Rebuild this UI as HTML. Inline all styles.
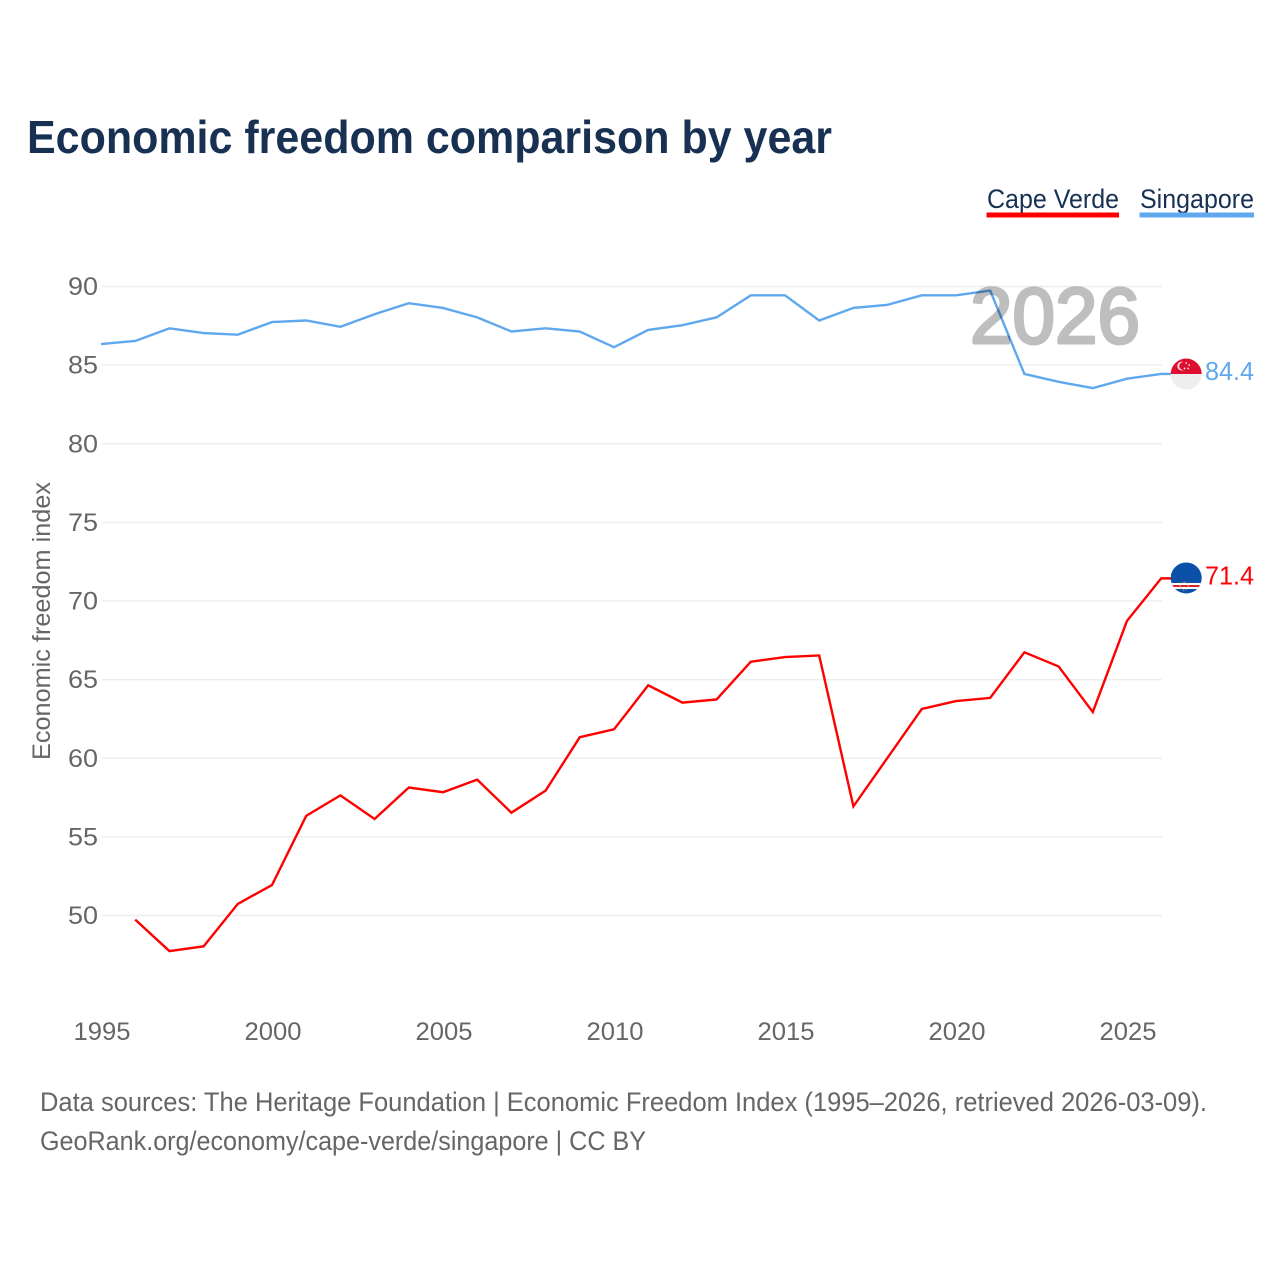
<!DOCTYPE html>
<html lang="en">
<head>
<meta charset="utf-8">
<title>Economic freedom comparison by year</title>
<style>
html,body{margin:0;padding:0;background:#fff;width:1280px;height:1280px;overflow:hidden}
svg{display:block;font-family:"Liberation Sans",sans-serif}
</style>
</head>
<body>
<svg id="chart" xmlns="http://www.w3.org/2000/svg" width="1280" height="1280" viewBox="0 0 1280 1280">
  <rect x="0" y="0" width="1280" height="1280" fill="#fff"/>
  <text x="27" y="153" font-size="46" font-weight="700" fill="#183153" textLength="805" lengthAdjust="spacingAndGlyphs">Economic freedom comparison by year</text>

  <g>
    <text x="987" y="208" font-size="27" fill="#183153" textLength="132" lengthAdjust="spacingAndGlyphs">Cape Verde</text>
    <rect x="986.5" y="212.5" width="132.5" height="5" fill="#ff0000"/>
  </g>
  <g>
    <text x="1140" y="208" font-size="27" fill="#183153" textLength="114" lengthAdjust="spacingAndGlyphs">Singapore</text>
    <rect x="1139.5" y="212.5" width="114.5" height="5" fill="#5fa8ee"/>
  </g>

  <g id="grid"></g>
  <g id="yticks"></g>
  <g id="xticks"></g>
  <text transform="translate(50,621) rotate(-90)" text-anchor="middle" font-size="25" fill="#666" textLength="278" lengthAdjust="spacingAndGlyphs">Economic freedom index</text>

  <g id="series" transform="translate(-1,-0.6)"></g>

  <text x="970" y="343" font-size="79" font-weight="400" fill="#000" stroke="#000" stroke-width="3" stroke-linejoin="round" opacity="0.25" textLength="170" lengthAdjust="spacingAndGlyphs">2026</text>

  <defs>
    <clipPath id="clip-sg"><circle id="clip-sg-circle" r="15.5"/></clipPath>
    <clipPath id="clip-cv"><circle id="clip-cv-circle" r="15.5"/></clipPath>
  </defs>
  <g id="flags"></g>

  <text x="40" y="1111" font-size="26.5" fill="#666" textLength="1167" lengthAdjust="spacingAndGlyphs">Data sources: The Heritage Foundation | Economic Freedom Index (1995–2026, retrieved 2026-03-09).</text>
  <text x="40" y="1150" font-size="26.5" fill="#666" textLength="606" lengthAdjust="spacingAndGlyphs">GeoRank.org/economy/cape-verde/singapore | CC BY</text>
</svg>
<script>
const years = [1995,1996,1997,1998,1999,2000,2001,2002,2003,2004,2005,2006,2007,2008,2009,2010,2011,2012,2013,2014,2015,2016,2017,2018,2019,2020,2021,2022,2023,2024,2025,2026];
const singaporeValues = [86.3,86.5,87.3,87.0,86.9,87.7,87.8,87.4,88.2,88.9,88.6,88.0,87.1,87.3,87.1,86.1,87.2,87.5,88.0,89.4,89.4,87.8,88.6,88.8,89.4,89.4,89.7,84.4,83.9,83.5,84.1,84.4];
const capeVerdeValues = [null,49.7,47.7,48.0,50.7,51.9,56.3,57.6,56.1,58.1,57.8,58.6,56.5,57.9,61.3,61.8,64.6,63.5,63.7,66.1,66.4,66.5,56.9,60.0,63.1,63.6,63.8,66.7,65.8,62.9,68.7,71.4];
const yTickValues = [50,55,60,65,70,75,80,85,90];
const xTickValues = [1995,2000,2005,2010,2015,2020,2025];

const NS = 'http://www.w3.org/2000/svg';
const xScale = function (year) { return 102 + (year - 1995) * 34.2; };
const yScale = function (value) { return 286.5 + (90 - value) * 15.725; };

function make(tag, attrs, parent) {
  const el = document.createElementNS(NS, tag);
  Object.keys(attrs).forEach(function (k) { el.setAttribute(k, attrs[k]); });
  parent.appendChild(el);
  return el;
}

const grid = document.getElementById('grid');
const yticks = document.getElementById('yticks');
const xticks = document.getElementById('xticks');
const series = document.getElementById('series');
const flags = document.getElementById('flags');

yTickValues.forEach(function (v) {
  const line = make('line', {x1: 102, x2: 1162, y1: yScale(v), y2: yScale(v), stroke: '#eeeeee', 'stroke-width': 1.6}, grid);
  
  
  const label = make('text', {x: 98, y: yScale(v) + 8.5, 'text-anchor': 'end', 'font-size': 25, fill: '#666', textLength: 30, lengthAdjust: 'spacingAndGlyphs'}, yticks);
  
  
  label.textContent = String(v);
});

xTickValues.forEach(function (y) {
  const label = make('text', {x: xScale(y), y: 1040, 'text-anchor': 'middle', 'font-size': 25, fill: '#666', textLength: 57, lengthAdjust: 'spacingAndGlyphs'}, xticks);
  
  
  label.textContent = String(y);
});

function pathFor(values) {
  let d = '';
  values.forEach(function (v, i) {
    if (v === null) return;
    d += (d ? 'L' : 'M') + xScale(years[i]).toFixed(2) + ' ' + yScale(v).toFixed(2);
  });
  return d;
}

const lastIdx = years.length - 1;
const sgY = yScale(singaporeValues[lastIdx]);
const cvY = yScale(capeVerdeValues[lastIdx]);
const endX = xScale(years[lastIdx]);

const sgLine = make('path', {d: pathFor(singaporeValues) + 'L' + (endX + 10) + ' ' + sgY, fill: 'none', stroke: '#5fa8ee', 'stroke-width': 2.4, 'stroke-linejoin': 'miter'}, series);



const cvLine = make('path', {d: pathFor(capeVerdeValues) + 'L' + (endX + 10) + ' ' + cvY, fill: 'none', stroke: '#ff0000', 'stroke-width': 2.4, 'stroke-linejoin': 'miter'}, series);



/* Flag markers follow the last data point */
const flagX = endX + 24;
const sgCy = sgY - 0.5;
const cvCy = cvY - 1;
const clipSg = document.getElementById('clip-sg-circle');
clipSg.setAttribute('cx', flagX);
clipSg.setAttribute('cy', sgCy);
const clipCv = document.getElementById('clip-cv-circle');
clipCv.setAttribute('cx', flagX);
clipCv.setAttribute('cy', cvCy);

const sgFlag = make('g', {'clip-path': 'url(#clip-sg)'}, flags);


make('rect', {x: flagX - 16, y: sgCy - 16, width: 32, height: 16, fill: '#dc0f30'}, sgFlag);
make('rect', {x: flagX - 16, y: sgCy, width: 32, height: 16, fill: '#eeeeee'}, sgFlag);
make('circle', {cx: flagX - 4.5, cy: sgCy - 8, r: 4.4, fill: '#fbe6e9'}, sgFlag);
make('circle', {cx: flagX - 3, cy: sgCy - 8, r: 4, fill: '#dc0f30'}, sgFlag);
make('circle', {cx: flagX, cy: sgCy - 11, r: 0.9, fill: '#fbe6e9'}, sgFlag);
make('circle', {cx: flagX + 3, cy: sgCy - 9, r: 0.9, fill: '#fbe6e9'}, sgFlag);
make('circle', {cx: flagX + 2, cy: sgCy - 5.6, r: 0.9, fill: '#fbe6e9'}, sgFlag);
make('circle', {cx: flagX - 1.6, cy: sgCy - 5.6, r: 0.9, fill: '#fbe6e9'}, sgFlag);

const cvFlag = make('g', {'clip-path': 'url(#clip-cv)'}, flags);


make('rect', {x: flagX - 16, y: cvCy - 16, width: 32, height: 32, fill: '#0a50a8'}, cvFlag);
make('rect', {x: flagX - 16, y: cvCy + 5, width: 32, height: 6, fill: '#ffffff'}, cvFlag);
make('rect', {x: flagX - 16, y: cvCy + 7, width: 32, height: 2, fill: '#d8232a'}, cvFlag);
make('circle', {cx: flagX - 2, cy: cvCy + 8, r: 4, fill: 'none', stroke: '#c9b26a', 'stroke-width': 1, 'stroke-dasharray': '1.5 1.5'}, cvFlag);

const sgValue = make('text', {x: 1205, y: sgY + 5.5, 'font-size': 26, fill: '#5fa8ee', textLength: 49, lengthAdjust: 'spacingAndGlyphs'}, flags);


sgValue.textContent = singaporeValues[lastIdx].toFixed(1);

const cvValue = make('text', {x: 1205, y: cvY + 5.5, 'font-size': 26, fill: '#ff0000', textLength: 49, lengthAdjust: 'spacingAndGlyphs'}, flags);


cvValue.textContent = capeVerdeValues[lastIdx].toFixed(1);
</script>
</body>
</html>
